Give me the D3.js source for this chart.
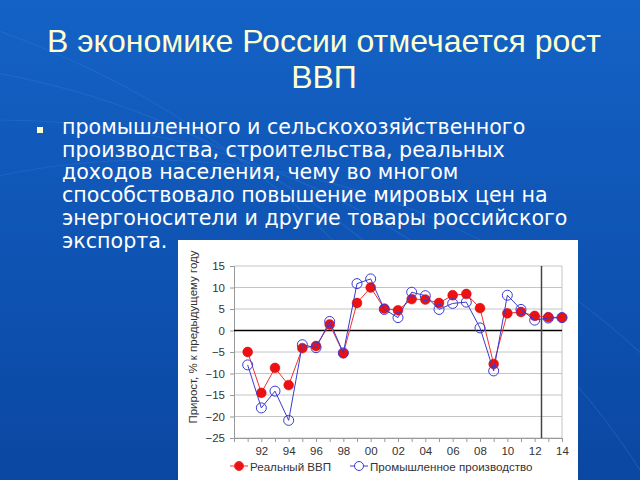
<!DOCTYPE html>
<html>
<head>
<meta charset="utf-8">
<script src="https://cdn.jsdelivr.net/npm/d3@7"></script>
<style>
  body { margin: 0; background: #0b4aa8; }
  svg { display: block; }
</style>
</head>
<body>
<div id="canvas"></div>
<script>
// data
const years = d3.range(1991, 2015);
const gdp = [-5.0, -14.5, -8.7, -12.7, -4.1, -3.6, 1.4, -5.3, 6.4, 10.0, 5.1, 4.7,
             7.3, 7.2, 6.4, 8.2, 8.5, 5.2, -7.8, 4.0, 4.3, 3.4, 3.1, 3.0];
const industry = [-8.0, -18.0, -14.1, -20.9, -3.3, -4.0, 2.1, -5.2, 10.9, 12.0, 4.9, 3.0,
                  8.9, 8.1, 4.9, 6.3, 6.6, 0.6, -9.4, 8.2, 4.9, 2.4, 2.9, 3.0];
const yTicks = [-25, -20, -15, -10, -5, 0, 5, 10, 15];
const xLabels = [1992, 1994, 1996, 1998, 2000, 2002, 2004, 2006, 2008, 2010, 2012, 2014];
const forecastStart = 2012.5;

const titleLines = ["В экономике России отмечается рост", "ВВП"];
const bulletLines = [
  "промышленного и сельскохозяйственного",
  "производства, строительства, реальных",
  "доходов населения, чему во многом",
  "способствовало повышение мировых цен на",
  "энергоносители и другие товары российского",
  "экспорта."
];
const yTitle = "Прирост, % к предыдущему году";
const seriesNames = ["Реальный ВВП", "Промышленное производство"];

const width = 640, height = 480;
const svg = d3.select("#canvas").append("svg")
  .attr("width", width).attr("height", height);

// slide background
const defs = svg.append("defs");
const grad = defs.append("linearGradient").attr("id", "bg")
  .attr("x1", 0).attr("y1", 0).attr("x2", 0).attr("y2", 1);
grad.append("stop").attr("offset", "0%").attr("stop-color", "#1462c6");
grad.append("stop").attr("offset", "100%").attr("stop-color", "#0a47a2");
svg.append("rect").attr("width", width).attr("height", height).attr("fill", "url(#bg)");

// faint globe lines
const arcs = svg.append("g").attr("fill", "none").attr("stroke", "#3f86e0")
  .attr("stroke-opacity", 0.25).attr("stroke-width", 1.2);
[[-300, 900], [-150, 820], [0, 760], [150, 720]].forEach(([cx, r]) => {
  arcs.append("circle").attr("cx", cx).attr("cy", 880).attr("r", r);
});

// title
svg.append("g").selectAll("text").data(titleLines).enter().append("text")
  .attr("x", 324).attr("y", (d, i) => 52 + i * 36)
  .attr("text-anchor", "middle")
  .attr("font-family", "Liberation Sans, Arial, sans-serif")
  .attr("font-size", 32)
  .attr("fill", "#ffffd0")
  .text(d => d);

// bullet
svg.append("rect").attr("x", 37).attr("y", 127).attr("width", 6).attr("height", 6)
  .attr("fill", "#ffffcc");
svg.append("g").selectAll("text").data(bulletLines).enter().append("text")
  .attr("x", 62).attr("y", (d, i) => 134 + i * 22.7)
  .attr("font-family", "DejaVu Sans, Verdana, sans-serif")
  .attr("font-size", 20.6)
  .attr("fill", "#ffffff")
  .text(d => d);

// chart picture
svg.append("rect").attr("x", 178).attr("y", 240).attr("width", 400).attr("height", 240)
  .attr("fill", "#ffffff");

const x = d3.scaleLinear().domain([1990, 2014]).range([234, 562]);
const y = d3.scaleLinear().domain([-25, 15]).range([438, 266]);

const graph = svg.append("g").attr("font-family", "Liberation Sans, Arial, sans-serif");

// grid
graph.append("g").selectAll("line").data(yTicks.filter(d => d !== 0)).enter().append("line")
  .attr("x1", x(1990)).attr("x2", x(2014))
  .attr("y1", d => y(d)).attr("y2", d => y(d))
  .attr("stroke", "#c4c4c4").attr("stroke-width", 1);
graph.append("line")
  .attr("x1", x(2014)).attr("x2", x(2014)).attr("y1", y(15)).attr("y2", y(-25))
  .attr("stroke", "#c4c4c4");

// y axis
const yAxis = graph.append("g")
  .attr("transform", `translate(${x(1990)},0)`)
  .call(d3.axisLeft(y).tickValues(yTicks).tickSize(4).tickPadding(5));
yAxis.select(".domain").attr("stroke", "#999");
yAxis.selectAll(".tick line").attr("stroke", "#999");
yAxis.selectAll("text").attr("font-size", 11.5).attr("fill", "#333")
  .attr("font-family", "Liberation Sans, Arial, sans-serif");

// x axis
const xAxis = graph.append("g")
  .attr("transform", `translate(0,${y(-25)})`)
  .call(d3.axisBottom(x).tickValues(d3.range(1990, 2015)).tickSize(4).tickPadding(5)
    .tickFormat(d => xLabels.includes(d) ? d3.format("02d")(d % 100) : ""));
xAxis.select(".domain").attr("stroke", "#999");
xAxis.selectAll(".tick line").attr("stroke", "#999");
xAxis.selectAll("text").attr("font-size", 11.5).attr("fill", "#333")
  .attr("font-family", "Liberation Sans, Arial, sans-serif");

// zero line
graph.append("line")
  .attr("x1", x(1990)).attr("x2", x(2014)).attr("y1", y(0)).attr("y2", y(0))
  .attr("stroke", "#000").attr("stroke-width", 1.6);

// forecast separator
graph.append("line")
  .attr("x1", x(forecastStart)).attr("x2", x(forecastStart))
  .attr("y1", y(15)).attr("y2", y(-25))
  .attr("stroke", "#444").attr("stroke-width", 1.5);

// y title
graph.append("text")
  .attr("transform", `translate(197,337) rotate(-90)`)
  .attr("text-anchor", "middle")
  .attr("font-size", 11.5).attr("fill", "#333")
  .text(yTitle);

// series
const line = d3.line().x(d => x(d[0])).y(d => y(d[1]));
const gdpPts = years.map((yr, i) => [yr, gdp[i]]);
const indPts = years.map((yr, i) => [yr, industry[i]]);

graph.append("path").datum(gdpPts).attr("d", line)
  .attr("fill", "none").attr("stroke", "#f03030").attr("stroke-width", 1);
graph.append("g").selectAll("circle").data(gdpPts).enter().append("circle")
  .attr("cx", d => x(d[0])).attr("cy", d => y(d[1])).attr("r", 4.9)
  .attr("fill", "#ee1111").attr("stroke", "#dd0000").attr("stroke-width", 0.5);

graph.append("path").datum(indPts).attr("d", line)
  .attr("fill", "none").attr("stroke", "#3a3ad0").attr("stroke-width", 1);
graph.append("g").selectAll("circle").data(indPts).enter().append("circle")
  .attr("cx", d => x(d[0])).attr("cy", d => y(d[1])).attr("r", 5)
  .attr("fill", "none").attr("stroke", "#3a3ad8").attr("stroke-width", 1);

// legend
const legend = graph.append("g").attr("transform", "translate(0,466)");
const legendItems = [
  { name: seriesNames[0], x0: 230, color: "#f03030", filled: true },
  { name: seriesNames[1], x0: 350, color: "#3a3ad0", filled: false }
];
legendItems.forEach(it => {
  legend.append("line").attr("x1", it.x0).attr("x2", it.x0 + 18).attr("y1", 0).attr("y2", 0)
    .attr("stroke", it.color);
  legend.append("circle").attr("cx", it.x0 + 9).attr("cy", 0).attr("r", 4.5)
    .attr("fill", it.filled ? "#ee1111" : "#fff").attr("stroke", it.color);
  legend.append("text").attr("x", it.x0 + 20).attr("y", 4.5)
    .attr("font-size", 11.6).attr("fill", "#333").text(it.name);
});
</script>
</body>
</html>
